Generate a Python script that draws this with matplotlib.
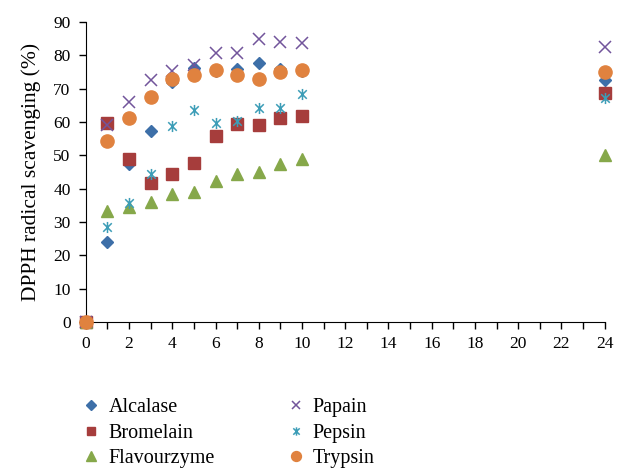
import matplotlib
matplotlib.use("Agg")
import matplotlib.pyplot as plt
from matplotlib.path import Path

plt.rcParams['font.family'] = ['Liberation Serif', 'DejaVu Serif']

# --- DATA ---
hours = [0, 1, 2, 3, 4, 5, 6, 7, 8, 9, 10, 24]
alcalase = [0, 24.0, 47.4, 57.4, 72.1, 76.3, 75.4, 75.8, 77.6, 75.9, 75.4, 72.6]
bromelain = [0, 59.8, 48.8, 41.6, 44.4, 47.8, 55.8, 59.4, 59.0, 61.1, 61.8, 68.6]
flavourzyme = [0, 33.4, 34.6, 36.1, 38.3, 39.1, 42.4, 44.4, 45.1, 47.4, 48.8, 50.1]
papain = [0, 59.1, 66.1, 72.6, 75.3, 77.1, 80.8, 80.8, 84.8, 83.9, 83.6, 82.5]
pepsin = [0, 28.6, 35.6, 44.4, 58.8, 63.6, 59.6, 60.4, 64.1, 64.1, 68.3, 67.1]
trypsin = [0, 54.4, 61.3, 67.6, 72.9, 74.1, 75.6, 74.0, 72.9, 75.1, 75.6, 75.1]

# asterisk marker: X plus vertical bar
ast = Path([(-1, -1), (1, 1), (-1, 1), (1, -1), (0, -1.3), (0, 1.3)],
           [Path.MOVETO, Path.LINETO, Path.MOVETO, Path.LINETO, Path.MOVETO, Path.LINETO])

fig = plt.figure(figsize=(6.22, 4.69), dpi=100)
ax = fig.add_axes([0.138, 0.3134, 0.834, 0.6397])

ax.plot(hours, alcalase, ls="none", marker="D", ms=6.5, color="#3D6FA8", label="Alcalase", clip_on=False, zorder=3)
ax.plot(hours, bromelain, ls="none", marker="s", ms=8.5, color="#A63D3C", label="Bromelain", clip_on=False, zorder=3)
ax.plot(hours, flavourzyme, ls="none", marker="^", ms=9, color="#86A84A", label="Flavourzyme", clip_on=False, zorder=3)
ax.plot(hours, papain, ls="none", marker="x", ms=8, mew=1.1, color="#72559B", label="Papain", clip_on=False, zorder=3)
ax.plot(hours, pepsin, ls="none", marker=ast, ms=8, mew=1.1, color="#3C9DB7", label="Pepsin", clip_on=False, zorder=3)
ax.plot(hours, trypsin, ls="none", marker="o", ms=9.5, color="#E0823F", label="Trypsin", clip_on=False, zorder=3)

ax.set_xlim(0, 24)
ax.set_ylim(0, 90)
ax.set_xticks(range(0, 25, 2))
ax.set_xticks(range(0, 25), minor=True)
ax.set_yticks(range(0, 91, 10))
ax.tick_params(which="both", direction="out", length=5, width=1, labelsize=12.5, colors="black")
ax.tick_params(axis="x", which="both", pad=5)
ax.tick_params(axis="y", pad=6)
ax.spines["top"].set_visible(False)
ax.spines["right"].set_visible(False)
ax.set_ylabel("DPPH radical scavenging (%)", fontsize=15.5, labelpad=9)

handles, labels = ax.get_legend_handles_labels()
fig.legend(handles, labels, loc="upper left", bbox_to_anchor=(0.105, 0.19), ncol=2,
           frameon=False, fontsize=14.5, handletextpad=0.45, columnspacing=3.6,
           handlelength=0.8, labelspacing=0.32, markerscale=0.75)

fig.savefig("out.png", dpi=100)
